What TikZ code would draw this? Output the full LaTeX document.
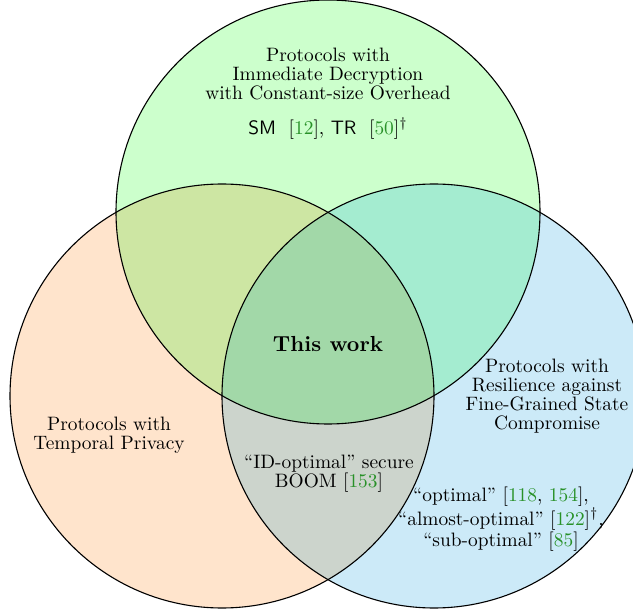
\documentclass[tikz,border=0pt]{standalone}
\definecolor{topc}{RGB}{204,255,204}
\definecolor{leftc}{RGB}{255,228,204}
\definecolor{rightc}{RGB}{204,234,248}
\definecolor{tlc}{RGB}{205,230,163}
\definecolor{trc}{RGB}{164,236,208}
\definecolor{lrc}{RGB}{204,212,204}
\definecolor{cc}{RGB}{162,216,168}
\definecolor{citec}{RGB}{40,145,40}
\newcommand{\cit}[1]{[\textcolor{citec}{#1}]}
\newcommand{\cn}[1]{\textcolor{citec}{#1}}
\begin{document}
\begin{tikzpicture}[x=0.5pt,y=-0.5pt,
  txt/.style={font=\fontsize{9.7}{9.6}\selectfont, align=center, inner sep=0pt},
  ring/.style={draw=black, line width=0.55pt}]
\useasboundingbox (0,0) rectangle (633,610);
\clip (0,0) rectangle (633,610);
\coordinate (T) at (328,212);
\coordinate (L) at (222,396);
\coordinate (R) at (434,396);
% base fills
\fill[topc] (T) circle[radius=106pt];
\fill[leftc] (L) circle[radius=106pt];
\fill[rightc] (R) circle[radius=106pt];
% overlaps
\begin{scope}
  \clip (L) circle[radius=106pt];
  \fill[lrc] (R) circle[radius=106pt];
\end{scope}
\begin{scope}
  \clip (T) circle[radius=106pt];
  \fill[tlc] (L) circle[radius=106pt];
  \fill[trc] (R) circle[radius=106pt];
  \clip (L) circle[radius=106pt];
  \fill[cc] (R) circle[radius=106pt];
\end{scope}
% outlines
\draw[ring] (T) circle[radius=106pt];
\draw[ring] (L) circle[radius=106pt];
\draw[ring] (R) circle[radius=106pt];
% texts
\node[txt] (ttop) at (328,74) {Protocols with\\Immediate Decryption\\with Constant-size Overhead};
\node[txt, anchor=base] (tcite) at (328,135) {\textsf{SM}\hspace{0.65em}\cit{12}, \textsf{TR}\hspace{0.65em}\cit{50}$^\dagger$};
\node[inner sep=0pt, anchor=base, font=\fontsize{10.9}{12}\selectfont\bfseries] (work) at (328,351) {This work};
\node[txt] (tleft) at (109,435) {Protocols with\\Temporal Privacy};
\node[txt] (tmid) at (329,474) {``ID-optimal'' secure\\BOOM \cit{153}};
\node[txt] (tright) at (547,396) {Protocols with\\Resilience against\\Fine-Grained State\\Compromise};
\node[txt] (tbr) at (501,519) {``optimal'' [\cn{118}, \cn{154}],\\``almost-optimal'' \cit{122}$^\dagger$,\\``sub-optimal'' \cit{85}};
\end{tikzpicture}
\end{document}
